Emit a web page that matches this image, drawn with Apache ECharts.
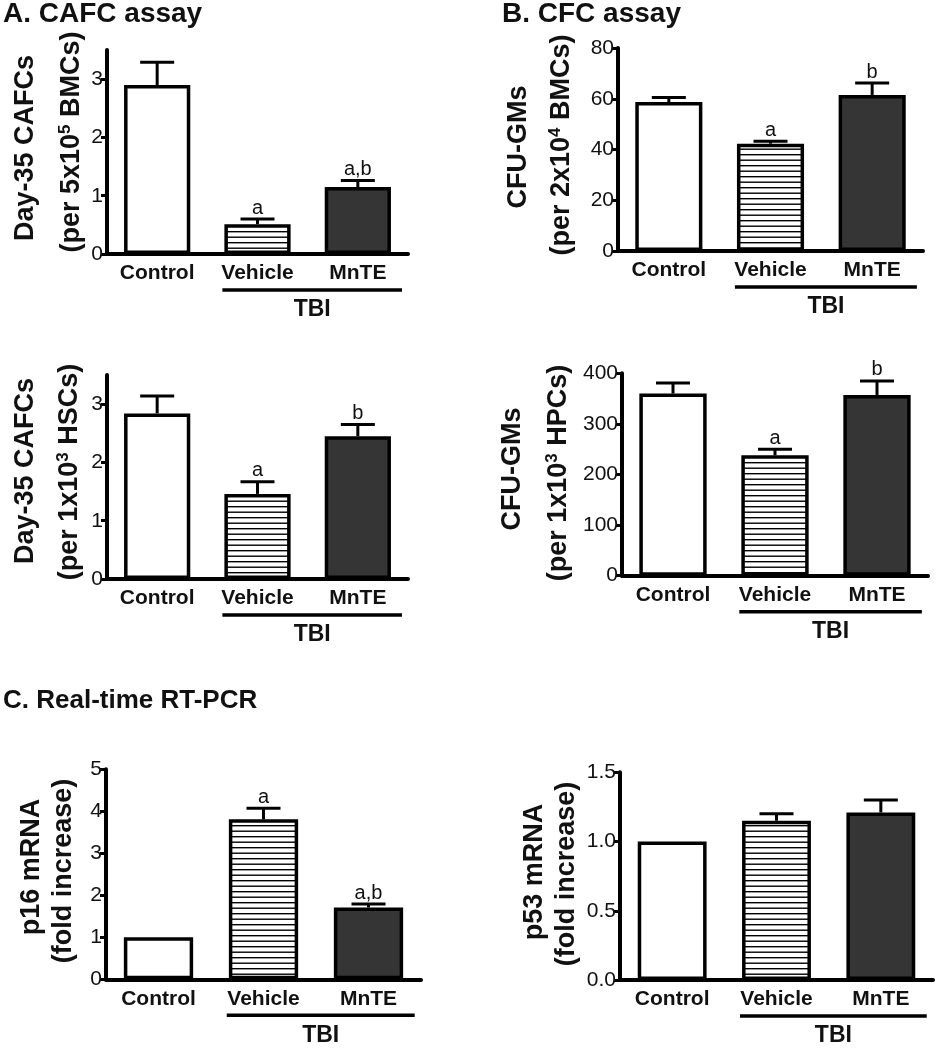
<!DOCTYPE html>
<html><head><meta charset="utf-8">
<script src="https://cdn.jsdelivr.net/npm/echarts@6/dist/echarts.min.js"></script>
<style>html,body{margin:0;padding:0;background:#fff}#c{width:936px;height:1050px}</style>
</head><body><div id="c"></div>
<script>
// ---------- data ----------
const categories = ['Control', 'Vehicle', 'MnTE'];
const groupLabel = 'TBI';

// A. CAFC assay, per 5x10^5 BMCs
const cafcBmcMean = [2.90, 0.51, 1.15];
const cafcBmcSem  = [0.39, 0.09, 0.11];
const cafcBmcSig  = ['', 'a', 'a,b'];
// A. CAFC assay, per 1x10^3 HSCs
const cafcHscMean = [2.84, 1.46, 2.45];
const cafcHscSem  = [0.30, 0.21, 0.20];
const cafcHscSig  = ['', 'a', 'b'];
// B. CFC assay, per 2x10^4 BMCs
const cfuBmcMean = [58.7, 42.3, 61.5];
const cfuBmcSem  = [1.8, 1.0, 4.7];
const cfuBmcSig  = ['', 'a', 'b'];
// B. CFC assay, per 1x10^3 HPCs
const cfuHpcMean = [360, 238, 357];
const cfuHpcSem  = [21, 12, 28];
const cfuHpcSig  = ['', 'a', 'b'];
// C. Real-time RT-PCR
const p16Mean = [1.0, 3.81, 1.71];
const p16Sem  = [0, 0.26, 0.08];
const p16Sig  = ['', 'a', 'a,b'];
const p53Mean = [1.0, 1.15, 1.21];
const p53Sem  = [0, 0.05, 0.09];
const p53Sig  = ['', '', ''];

// tick values
const cafcTicks = [0, 1, 2, 3];

// ---------- styles / layout ----------
const FF = '"Liberation Sans", Arial, sans-serif';
const stripe = (function () {
  const c = document.createElement('canvas');
  c.width = 8; c.height = 11;
  const g = c.getContext('2d');
  g.fillStyle = '#fff'; g.fillRect(0, 0, 8, 11);
  g.fillStyle = '#000';
  g.fillRect(0, 0, 8, 1.4);
  g.fillRect(0, 5.5, 8, 1.4);
  return c;
})();
const fills = ['#ffffff', { image: stripe, repeat: 'repeat' }, '#353535'];

const panels = [
  { grid: { left: 107, top: 50, width: 301, height: 204 }, mean: cafcBmcMean, sem: cafcBmcSem, sig: cafcBmcSig,
    y: { max: 3.5, custom: cafcTicks } },
  { grid: { left: 618, top: 48, width: 305, height: 203 }, mean: cfuBmcMean, sem: cfuBmcSem, sig: cfuBmcSig,
    y: { max: 80, interval: 20 } },
  { grid: { left: 107, top: 375, width: 301, height: 204 }, mean: cafcHscMean, sem: cafcHscSem, sig: cafcHscSig,
    y: { max: 3.5, custom: cafcTicks } },
  { grid: { left: 622, top: 373.3, width: 306, height: 202.4 }, mean: cfuHpcMean, sem: cfuHpcSem, sig: cfuHpcSig,
    y: { max: 400, interval: 100 } },
  { grid: { left: 106, top: 769.3, width: 315, height: 210 }, mean: p16Mean, sem: p16Sem, sig: p16Sig,
    y: { max: 5, interval: 1 } },
  { grid: { left: 620, top: 772.3, width: 313, height: 207.7 }, mean: p53Mean, sem: p53Sem, sig: p53Sig,
    y: { max: 1.5, interval: 0.5, fmt: v => v.toFixed(1) } }
];

const grids = [], xAxes = [], yAxes = [], series = [];
panels.forEach((p, k) => {
  grids.push(Object.assign({ containLabel: false, outerBoundsMode: 'none' }, p.grid));
  xAxes.push({
    type: 'category', gridIndex: k, data: categories,
    axisLine: { lineStyle: { color: '#000', width: 4 } },
    axisTick: { alignWithLabel: true, length: 6, lineStyle: { color: '#000', width: 3 } },
    axisLabel: { margin: 9, fontSize: 21, fontWeight: 'bold', fontFamily: FF, color: '#111' },
    splitLine: { show: false }
  });
  const ya = {
    type: 'value', gridIndex: k, min: 0, max: p.y.max,
    axisLine: { show: true, lineStyle: { color: '#000', width: 4 } },
    axisTick: { show: true, length: 6, lineStyle: { color: '#000', width: 3 } },
    axisLabel: { margin: 4, fontSize: 21, fontFamily: FF, color: '#111' },
    splitLine: { show: false }
  };
  if (p.y.interval) ya.interval = p.y.interval;
  if (p.y.custom) { ya.axisLabel.customValues = p.y.custom; ya.axisTick.customValues = p.y.custom; }
  if (p.y.fmt) ya.axisLabel.formatter = p.y.fmt;
  yAxes.push(ya);

  series.push({
    type: 'bar', xAxisIndex: k, yAxisIndex: k, barWidth: '66%', z: 2,
    itemStyle: { borderColor: '#000', borderWidth: 3.5 },
    data: p.mean.map((v, i) => ({ value: v, itemStyle: { color: fills[i] } }))
  });

  const sig = p.sig;
  series.push({
    type: 'custom', xAxisIndex: k, yAxisIndex: k, z: 5, clip: false,
    data: p.mean.map((m, i) => [i, m, m + p.sem[i]]),
    encode: { x: 0, y: 2 },
    renderItem: function (params, api) {
      const i = api.value(0);
      const base = api.coord([i, api.value(1)]);
      const top = api.coord([i, api.value(2)]);
      const band = api.size([1, 0])[0];
      const capHalf = 17;
      const ch = [];
      if (api.value(2) > api.value(1)) {
        ch.push({ type: 'line', shape: { x1: base[0], y1: base[1], x2: base[0], y2: top[1] },
          style: { stroke: '#000', lineWidth: 3 } });
        ch.push({ type: 'line', shape: { x1: base[0] - capHalf, y1: top[1], x2: base[0] + capHalf, y2: top[1] },
          style: { stroke: '#000', lineWidth: 3 } });
      }
      if (sig[i]) {
        ch.push({ type: 'text', x: base[0], y: top[1] - 1,
          style: { text: sig[i], font: '20px ' + FF, fill: '#111', align: 'center', verticalAlign: 'bottom' } });
      }
      if (i === 2) {
        const zero = api.coord([1, 0]);
        const x1 = zero[0] - band * 0.35;
        const x2 = base[0] + band * 0.44;
        ch.push({ type: 'line', shape: { x1: x1, y1: zero[1] + 36, x2: x2, y2: zero[1] + 36 },
          style: { stroke: '#000', lineWidth: 3.5 } });
        ch.push({ type: 'text', x: (x1 + x2) / 2, y: zero[1] + 56,
          style: { text: groupLabel, font: 'bold 23px ' + FF, fill: '#111', align: 'center', verticalAlign: 'middle' } });
      }
      return { type: 'group', children: ch };
    }
  });
});

// ---------- text ----------
function title(text, x, y, size) {
  return { type: 'text', x: x, y: y, style: { text: text, font: 'bold ' + size + 'px ' + FF, fill: '#111', align: 'left', verticalAlign: 'middle' } };
}
function ytitle(text, x, y) {
  return { type: 'text', x: x, y: y, rotation: Math.PI / 2,
    style: { text: text, fill: '#111', align: 'center', verticalAlign: 'middle',
      font: 'bold 27px ' + FF,
      rich: {
        n: { fontSize: 27, fontWeight: 'bold', fontFamily: FF, fill: '#111', lineHeight: 30 },
        s: { fontSize: 17, fontWeight: 'bold', fontFamily: FF, fill: '#111', verticalAlign: 'top', lineHeight: 17 }
      } } };
}
const graphic = [
  title('A. CAFC assay', 3, 14, 28),
  title('B. CFC assay', 502, 14, 28),
  title('C. Real-time RT-PCR', 3, 701, 26),
  ytitle('{n|Day-35 CAFCs}', 26, 148),
  ytitle('{n|(per 5x10}{s|5}{n| BMCs)}', 72, 142),
  ytitle('{n|CFU-GMs}', 519, 147),
  ytitle('{n|(per 2x10}{s|4}{n| BMCs)}', 562, 145),
  ytitle('{n|Day-35 CAFCs}', 26, 471),
  ytitle('{n|(per 1x10}{s|3}{n| HSCs)}', 70, 472),
  ytitle('{n|CFU-GMs}', 513, 469),
  ytitle('{n|(per 1x10}{s|3}{n| HPCs)}', 559, 473),
  ytitle('{n|p16 mRNA}', 32, 867),
  ytitle('{n|(fold increase)}', 64, 871),
  ytitle('{n|p53 mRNA}', 535, 872),
  ytitle('{n|(fold increase)}', 567, 874)
];

const chart = echarts.init(document.getElementById('c'), null, { renderer: 'canvas' });
chart.setOption({
  animation: false,
  backgroundColor: '#fff',
  grid: grids, xAxis: xAxes, yAxis: yAxes, series: series, graphic: graphic
});
</script>
</body></html>
